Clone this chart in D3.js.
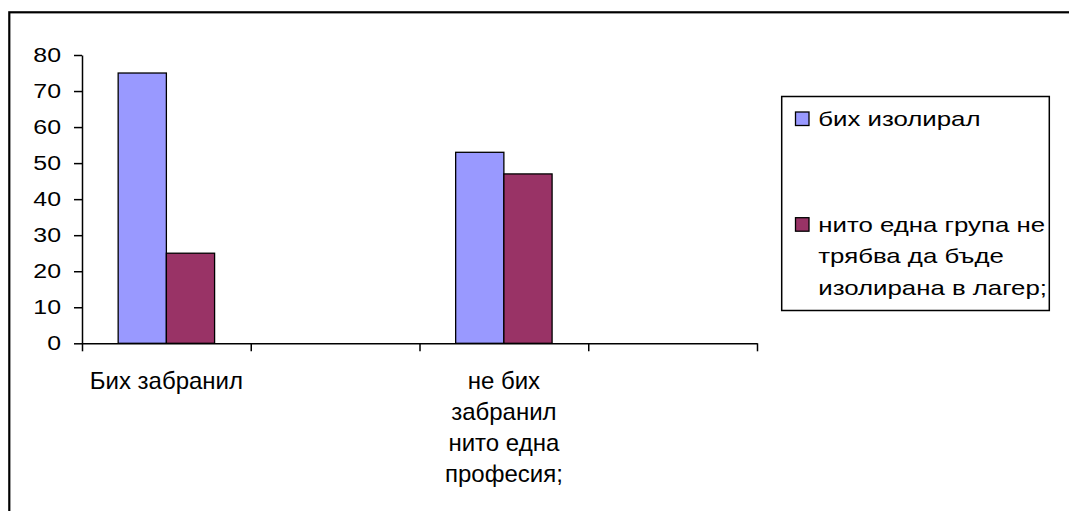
<!DOCTYPE html>
<html>
<head>
<meta charset="utf-8">
<script src="https://cdn.jsdelivr.net/npm/d3@7"></script>
<style>
  html, body { margin: 0; padding: 0; background: #fff; }
  svg { display: block; }
  text { font-family: "Liberation Sans", Arial, sans-serif; fill: #000; }
</style>
</head>
<body>
<svg id="chart" width="1069" height="511"></svg>
<script>
// ---- data ----
const categories = [
  ["Бих забранил"],
  [""],
  ["не бих", "забранил", "нито една", "професия;"],
  [""]
];
const seriesNames = ["бих изолирал", "нито една група не трябва да бъде изолирана в лагер;"];
const legendLines = [["бих изолирал"], ["нито една група не", "трябва да бъде", "изолирана в лагер;"]];
const series1 = [75, null, 53, null];
const series2 = [25, null, 47, null];
const yTicks = [0, 10, 20, 30, 40, 50, 60, 70, 80];
const colors = ["#9999FF", "#993366"];

(function () {
// ---- layout ----
const svg = d3.select("#chart");
const pLeft = 82, pRight = 757, pTop = 55, pBottom = 343.3;

// outer frame
svg.append("rect")
  .attr("x", 9.3).attr("y", 12.3)
  .attr("width", 1200).attr("height", 600)
  .attr("fill", "none").attr("stroke", "#000").attr("stroke-width", 2.2);

const idx = categories.map((d, i) => i);
const x = d3.scaleBand().domain(idx).range([pLeft, pRight]).paddingInner(0).paddingOuter(0);
const xs = d3.scaleBand().domain([0, 1]).range([0, x.bandwidth()]).paddingInner(0).paddingOuter(0.75);
const y = d3.scaleLinear().domain([0, 80]).range([pBottom, pTop]);

// bars
const seriesData = [series1, series2];
seriesData.forEach((vals, s) => {
  svg.append("g").selectAll("rect")
    .data(vals.map((v, i) => ({ v, i })).filter(d => d.v != null))
    .join("rect")
    .attr("x", d => x(d.i) + xs(s))
    .attr("width", xs.bandwidth())
    .attr("y", d => y(d.v))
    .attr("height", d => y(0) - y(d.v))
    .attr("fill", colors[s])
    .attr("stroke", "#000")
    .attr("stroke-width", 1.3);
});

// y axis
const yAxis = svg.append("g")
  .attr("transform", `translate(${pLeft},0)`)
  .call(d3.axisLeft(y).tickValues(yTicks).tickSize(8).tickSizeOuter(0).tickPadding(13));
yAxis.select(".domain").attr("stroke", "#000").attr("stroke-width", 1.5);
yAxis.selectAll(".tick line").attr("stroke", "#000").attr("stroke-width", 1.5);
yAxis.selectAll(".tick text")
  .style("font-family", '"Liberation Sans", Arial, sans-serif')
  .style("font-size", "19.5px")
  .attr("textLength", d => String(d).length * 13.85)
  .attr("lengthAdjust", "spacingAndGlyphs");

// x axis (tick marks at category boundaries)
const xb = d3.scaleLinear().domain([0, categories.length]).range([pLeft, pRight]);
const xAxis = svg.append("g")
  .attr("transform", `translate(0,${pBottom})`)
  .call(d3.axisBottom(xb).ticks(categories.length).tickSize(8).tickSizeOuter(0).tickFormat(""));
xAxis.select(".domain").attr("stroke", "#000").attr("stroke-width", 1.5);
xAxis.selectAll(".tick line").attr("stroke", "#000").attr("stroke-width", 1.5);

// category labels
const catG = svg.append("g");
categories.forEach((lines, i) => {
  const t = catG.append("text")
    .attr("text-anchor", "middle")
    .style("font-size", "24px");
  lines.forEach((ln, k) => {
    t.append("tspan")
      .attr("x", x(i) + x.bandwidth() / 2)
      .attr("y", 389.3 + k * 31)
      .text(ln);
  });
});

// legend
const lg = svg.append("g");
lg.append("rect")
  .attr("x", 781.7).attr("y", 96.5)
  .attr("width", 267.6).attr("height", 214)
  .attr("fill", "#fff").attr("stroke", "#000").attr("stroke-width", 1.5);
const legendBase = [126, 231.7];
legendLines.forEach((lines, s) => {
  lg.append("rect")
    .attr("x", 795.5).attr("y", legendBase[s] - 14)
    .attr("width", 13.5).attr("height", 13.5)
    .attr("fill", colors[s]).attr("stroke", "#000").attr("stroke-width", 1.3);
  const t = lg.append("text")
    .style("font-size", "20px")
    .attr("transform", "translate(818.3,0) scale(1.29,1)");
  lines.forEach((ln, k) => {
    t.append("tspan").attr("x", 0).attr("y", legendBase[s] + k * 31.6).text(ln);
  });
});
})();
</script>
</body>
</html>
